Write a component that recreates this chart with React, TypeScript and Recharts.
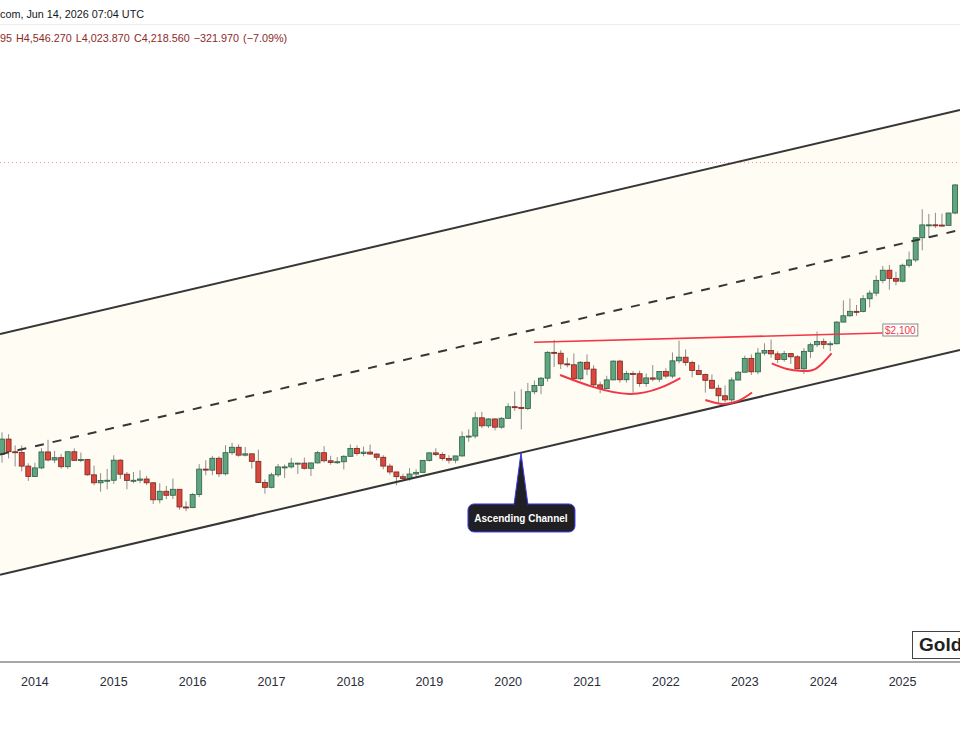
import React from 'react'
import { ComposedChart, Bar, Line, Area, XAxis, YAxis, ReferenceLine, ReferenceDot } from 'recharts'

// monthly XAU/USD candles, Aug 2013 .. Sep 2025 (t = month index from Aug 2013)
const OPEN = [
  1312, 1396, 1327, 1323, 1253, 1202, 1244, 1326, 1284, 1296, 1250, 1327, 1282, 1286, 1210, 1172, 1183,
  1184, 1283, 1213, 1183, 1184, 1190, 1172, 1095, 1133, 1115, 1142, 1064,
  1061, 1118, 1238, 1233, 1293, 1215, 1322, 1351, 1309, 1316, 1277, 1173,
  1151, 1210, 1249, 1249, 1268, 1268, 1242, 1269, 1322, 1280, 1271, 1275,
  1303, 1345, 1318, 1325, 1315, 1298, 1253, 1224, 1201, 1192, 1214, 1222,
  1282, 1321, 1313, 1292, 1283, 1305, 1409, 1413, 1520, 1472, 1513, 1464,
  1517, 1589, 1585, 1577, 1687, 1730, 1781, 1975, 1968, 1886, 1879, 1777,
  1898, 1847, 1734, 1708, 1769, 1907, 1770, 1814, 1813, 1743, 1783, 1774,
  1829, 1796, 1909, 1937, 1896, 1837, 1807, 1766, 1711, 1660, 1633, 1768,
  1824, 1928, 1827, 1969, 1990, 1963, 1919, 1965, 1940, 1849, 1983, 2036,
  2063, 2039, 2044, 2229, 2286, 2327, 2326, 2447, 2503, 2634, 2743, 2653,
  2625, 2798, 2858, 3124, 3288, 3289, 3286, 3282, 3448,
]
const HIGH = [
  1434, 1424, 1361, 1361, 1267, 1270, 1346, 1392, 1331, 1315, 1325, 1345, 1323, 1287, 1255, 1218, 1239,
  1308, 1288, 1224, 1224, 1232, 1205, 1174, 1170, 1157, 1192, 1143, 1088,
  1125, 1263, 1283, 1304, 1303, 1362, 1375, 1367, 1352, 1317, 1338, 1188,
  1220, 1264, 1261, 1295, 1270, 1296, 1270, 1331, 1357, 1306, 1299, 1309,
  1366, 1361, 1355, 1366, 1318, 1309, 1265, 1225, 1215, 1243, 1237, 1284,
  1326, 1346, 1324, 1309, 1306, 1439, 1452, 1555, 1557, 1518, 1516, 1524,
  1611, 1689, 1704, 1748, 1765, 1789, 1984, 2075, 1992, 1933, 1966, 1906,
  1959, 1875, 1756, 1798, 1913, 1916, 1834, 1833, 1835, 1814, 1877, 1831,
  1853, 1974, 2070, 1998, 1910, 1879, 1814, 1808, 1735, 1730, 1786, 1833,
  1949, 1959, 2009, 2048, 2079, 1983, 1987, 1966, 1953, 2009, 2052, 2146,
  2088, 2065, 2236, 2431, 2450, 2387, 2483, 2531, 2685, 2790, 2801, 2726,
  2817, 2956, 3128, 3500, 3435, 3451, 3439, 3453, 3872,
]
const LOW = [
  1270, 1292, 1251, 1227, 1181, 1200, 1238, 1277, 1268, 1240, 1240, 1281, 1273, 1206, 1161, 1131, 1142,
  1167, 1191, 1142, 1170, 1170, 1162, 1077, 1080, 1098, 1098, 1052, 1046,
  1061, 1107, 1208, 1208, 1200, 1207, 1310, 1301, 1302, 1241, 1171, 1122,
  1146, 1200, 1195, 1241, 1214, 1236, 1204, 1267, 1271, 1260, 1264, 1236,
  1302, 1307, 1303, 1310, 1282, 1237, 1211, 1160, 1180, 1182, 1196, 1221,
  1276, 1303, 1281, 1266, 1267, 1301, 1381, 1400, 1459, 1459, 1445, 1455,
  1517, 1563, 1451, 1568, 1670, 1671, 1757, 1863, 1848, 1860, 1765, 1765,
  1802, 1717, 1677, 1705, 1766, 1750, 1750, 1681, 1721, 1722, 1759, 1753,
  1780, 1780, 1890, 1872, 1787, 1805, 1681, 1709, 1615, 1617, 1616, 1765,
  1823, 1804, 1809, 1950, 1932, 1893, 1903, 1885, 1846, 1810, 1931, 2016,
  2002, 1984, 2039, 2228, 2277, 2286, 2318, 2364, 2472, 2604, 2537, 2583,
  2614, 2772, 2833, 2970, 3121, 3248, 3268, 3281, 3430,
]
const CLOSE = [
  1396, 1327, 1323, 1253, 1202, 1244, 1326, 1284, 1296, 1250, 1327, 1282, 1286, 1210, 1172, 1183, 1184,
  1283, 1213, 1183, 1184, 1190, 1172, 1095, 1133, 1115, 1142, 1064, 1061,
  1118, 1238, 1233, 1293, 1215, 1322, 1351, 1309, 1316, 1277, 1173, 1151,
  1210, 1249, 1249, 1268, 1268, 1242, 1269, 1322, 1280, 1271, 1275, 1303,
  1345, 1318, 1325, 1315, 1298, 1253, 1224, 1201, 1192, 1214, 1222, 1282,
  1321, 1313, 1292, 1283, 1305, 1409, 1413, 1520, 1472, 1513, 1464, 1517,
  1589, 1585, 1577, 1687, 1730, 1781, 1975, 1968, 1886, 1879, 1777, 1898,
  1847, 1734, 1708, 1769, 1907, 1770, 1814, 1813, 1743, 1783, 1774, 1829,
  1796, 1909, 1937, 1896, 1837, 1807, 1766, 1711, 1660, 1633, 1768, 1824,
  1928, 1827, 1969, 1990, 1963, 1919, 1965, 1940, 1849, 1983, 2036, 2063,
  2039, 2044, 2229, 2286, 2327, 2326, 2447, 2503, 2634, 2743, 2653, 2625,
  2798, 2858, 3124, 3288, 3289, 3286, 3282, 3448, 3858,
]

const YEAR_TICKS = [5, 17, 29, 41, 53, 65, 77, 89, 101, 113, 125, 137]
const YEAR_LABELS = ['2014', '2015', '2016', '2017', '2018', '2019', '2020', '2021', '2022', '2023', '2024', '2025']

// drawings (time index, price)
const CHANNEL_T = [-0.309, 145.74]
const CHANNEL_UPPER = [2125, 5207]
const CHANNEL_LOWER = [811, 1994]
const RESIST_T = [80.93, 134.0]
const RESIST_P = [2056, 2134]
const CUP1_T = [84.9, 89.9, 95.5, 100.1, 103.2]
const CUP1_P = [1804, 1720, 1672, 1713, 1782]
const CUP2_T = [107.0, 109.5, 112.0, 114.1]
const CUP2_P = [1632, 1607, 1626, 1682]
const CUP3_T = [117.1, 119.4, 121.7, 123.9, 126.2]
const CUP3_P = [1890, 1848, 1833, 1853, 1967]
const LAST_PRICE = 4218.56
const CALLOUT = { t: 78.95, p: 1320.6 }

const candles = OPEN.map((o, i) => ({
  t: i, open: o, high: HIGH[i], low: LOW[i], close: CLOSE[i], range: [LOW[i], HIGH[i]],
}))
const channel = CHANNEL_T.map((t, i) => ({
  t,
  upper: CHANNEL_UPPER[i],
  lower: CHANNEL_LOWER[i],
  mid: Math.sqrt(CHANNEL_UPPER[i] * CHANNEL_LOWER[i]),
  band: [CHANNEL_LOWER[i], CHANNEL_UPPER[i]],
}))
const toRows = (ts: number[], ps: number[]) => ts.map((t, i) => ({ t, v: ps[i] }))
const resist = toRows(RESIST_T, RESIST_P)
const cup1 = toRows(CUP1_T, CUP1_P)
const cup2 = toRows(CUP2_T, CUP2_P)
const cup3 = toRows(CUP3_T, CUP3_P)

const UP_FILL = '#5fa57f'
const UP_EDGE = '#2c5f45'
const DOWN_FILL = '#d8483c'
const DOWN_EDGE = '#7a261f'
const WICK = '#8d8d8d'
const RED = '#f23645'
const FONT = '"Liberation Sans", Arial, sans-serif'

function Candle(props: any) {
  const { x, y, width, height, payload } = props
  const { open, high, low, close } = payload
  const cx = x + width / 2
  const span = Math.log(high / low)
  const py = (v: number) => y + (height * Math.log(high / v)) / span
  const up = close >= open
  const top = py(Math.max(open, close))
  const bot = py(Math.min(open, close))
  return (
    <g>
      <line x1={cx} x2={cx} y1={y} y2={y + height} stroke={WICK} strokeWidth={1} />
      <rect x={cx - 2.5} y={top} width={5} height={Math.max(bot - top, 1)}
        fill={up ? UP_FILL : DOWN_FILL} stroke={up ? UP_EDGE : DOWN_EDGE} strokeWidth={0.8} />
    </g>
  )
}

function Callout({ cx, cy }: any) {
  const bg = '#1f1f24'
  const edge = '#3c3cf0'
  return (
    <g>
      <rect x={cx - 53} y={cy + 51} width={107} height={28} rx={6} fill={bg} stroke={edge} strokeWidth={1} />
      <path d={`M${cx},${cy} L${cx + 7},${cy + 52} L${cx - 7},${cy + 52} Z`} fill={bg} stroke={edge} strokeWidth={1} />
      <rect x={cx - 6.5} y={cy + 50} width={13} height={4} fill={bg} />
      <text x={cx} y={cy + 69} textAnchor="middle" fill="#ffffff" fontSize={10} fontWeight="bold" fontFamily={FONT}>
        Ascending Channel
      </text>
    </g>
  )
}

function PriceTag({ cx, cy }: any) {
  return (
    <g>
      <rect x={cx} y={cy - 9} width={35} height={12} fill="#ffffff" stroke="#8a8a8a" strokeWidth={1} />
      <text x={cx + 17.5} y={cy + 0.8} textAnchor="middle" fill={RED} fontSize={10} fontFamily={FONT}>
        $2,100
      </text>
    </g>
  )
}

export default function App() {
  return (
    <div style={{ position: 'absolute', left: 0, top: 0, width: 960, height: 750, overflow: 'hidden', background: '#ffffff', fontFamily: FONT }}>
      <div style={{ position: 'absolute', left: 0, top: 9, fontSize: 10.8, lineHeight: '10.8px', color: '#131722', whiteSpace: 'nowrap' }}>
        com, Jun 14, 2026 07:04 UTC
      </div>
      <div style={{ position: 'absolute', left: 0, top: 24, width: 960, height: 1, background: '#ececec' }} />
      <div style={{ position: 'absolute', left: 0, top: 32.5, fontSize: 10.8, lineHeight: '10.8px', color: '#8c2a2a', whiteSpace: 'nowrap', wordSpacing: 1 }}>
        95 H4,546.270 L4,023.870 C4,218.560 −321.970 (−7.09%)
      </div>
      <ComposedChart width={960} height={750} data={candles} margin={{ top: 50, right: 0, bottom: 0, left: 0 }}
        style={{ position: 'absolute', left: 0, top: 0 }}>
        <XAxis dataKey="t" type="number" domain={[-0.309, 145.74]} allowDataOverflow ticks={YEAR_TICKS}
          tickFormatter={(v) => YEAR_LABELS[YEAR_TICKS.indexOf(v)] ?? ''} height={88}
          axisLine={{ stroke: '#8a8a8a', strokeWidth: 1.5 }} tickLine={false} tickSize={0} tickMargin={15}
          tick={{ fill: '#2a2e39', fontSize: 12.5, fontFamily: FONT }} />
        <YAxis hide scale="log" domain={[572.3, 6619]} allowDataOverflow />
        <Area data={channel} dataKey="band" type="linear" fill="#fffcf3" fillOpacity={1} stroke="none" isAnimationActive={false} />
        <Line data={channel} dataKey="upper" type="linear" stroke="#363636" strokeWidth={2} dot={false} activeDot={false} isAnimationActive={false} />
        <Line data={channel} dataKey="lower" type="linear" stroke="#363636" strokeWidth={2} dot={false} activeDot={false} isAnimationActive={false} />
        <Line data={channel} dataKey="mid" type="linear" stroke="#363636" strokeWidth={2} strokeDasharray="9 9" dot={false} activeDot={false} isAnimationActive={false} />
        <ReferenceLine y={LAST_PRICE} stroke={RED} strokeOpacity={0.6} strokeDasharray="1 3" />
        <Bar dataKey="range" barSize={5} isAnimationActive={false} shape={(p: any) => <Candle {...p} />} />
        <Line data={resist} dataKey="v" type="linear" stroke={RED} strokeWidth={1.6} dot={false} activeDot={false} isAnimationActive={false} />
        <Line data={cup1} dataKey="v" type="natural" stroke={RED} strokeWidth={2} dot={false} activeDot={false} isAnimationActive={false} />
        <Line data={cup2} dataKey="v" type="natural" stroke={RED} strokeWidth={2} dot={false} activeDot={false} isAnimationActive={false} />
        <Line data={cup3} dataKey="v" type="natural" stroke={RED} strokeWidth={2} dot={false} activeDot={false} isAnimationActive={false} />
        <ReferenceDot x={RESIST_T[1]} y={RESIST_P[1]} shape={(p: any) => <PriceTag {...p} />} />
        <ReferenceDot x={CALLOUT.t} y={CALLOUT.p} shape={(p: any) => <Callout {...p} />} />
      </ComposedChart>
      <div style={{ position: 'absolute', left: 912, top: 631, width: 70, height: 28, border: '1.5px solid #444', background: '#ffffff',
        fontSize: 19, fontWeight: 'bold', color: '#222', lineHeight: '25px', paddingLeft: 6, boxSizing: 'border-box' }}>
        Gold
      </div>
    </div>
  )
}
